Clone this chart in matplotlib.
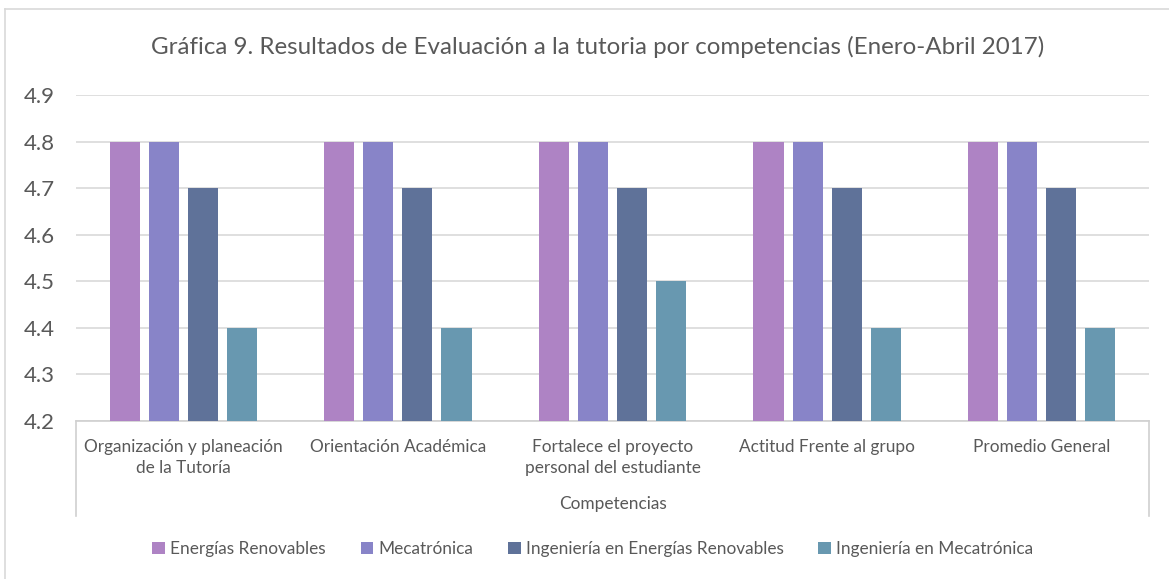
import matplotlib.pyplot as plt
import numpy as np
from matplotlib.lines import Line2D

plt.rcParams['font.family'] = ['Lato', 'DejaVu Sans']

categorias = ["Organización y planeación\nde la Tutoría", "Orientación Académica",
              "Fortalece el proyecto\npersonal del estudiante", "Actitud Frente al grupo",
              "Promedio General"]
series = ["Energías Renovables", "Mecatrónica", "Ingeniería en Energías Renovables",
          "Ingeniería en Mecatrónica"]
energias = [4.8, 4.8, 4.8, 4.8, 4.8]
mecatronica = [4.8, 4.8, 4.8, 4.8, 4.8]
ing_energias = [4.7, 4.7, 4.7, 4.7, 4.7]
ing_mecatronica = [4.4, 4.4, 4.5, 4.4, 4.4]
colores = ["#AE83C4", "#8884C8", "#5F7299", "#6898B0"]

gris = "#595959"
fig = plt.figure(figsize=(11.69, 5.79), dpi=100)
ax = fig.add_axes([76/1169, 1-421/579, (1149-76)/1169, (421-95)/579])

# marco de la figura
fig.add_artist(Line2D([5/1169, 1], [1-9/579, 1-9/579], color="#d9d9d9", lw=1.2))
fig.add_artist(Line2D([5/1169, 5/1169], [0, 1-9/579], color="#d9d9d9", lw=1.2))

x = np.arange(len(categorias))
ancho = 0.14
paso = 0.182
valores = [energias, mecatronica, ing_energias, ing_mecatronica]
for i, (nombre, vals) in enumerate(zip(series, valores)):
    ax.bar(x + (i - 1.5) * paso, np.array(vals) - 4.2, bottom=4.2, width=ancho,
           color=colores[i], label=nombre, zorder=3)

ax.set_xlim(-0.5, len(categorias) - 0.5)
ax.set_ylim(4.2, 4.9)
ax.set_yticks(np.arange(4.2, 4.95, 0.1))
ax.set_yticklabels([f"{v:.1f}" for v in np.arange(4.2, 4.95, 0.1)])
ax.yaxis.grid(True, color="#d9d9d9", lw=1.2, zorder=0)
ax.tick_params(axis='y', length=0, labelsize=16, labelcolor=gris, pad=15)
for s in ["top", "right", "left"]:
    ax.spines[s].set_visible(False)
ax.spines["bottom"].set_color("#d0d0d0")
ax.spines["bottom"].set_linewidth(1.2)
ax.set_xticks(x)
ax.set_xticklabels(categorias, fontsize=12.4, color=gris, linespacing=1.4, va="top")
ax.tick_params(axis='x', length=0, pad=13)
ax.set_xlabel("Competencias", fontsize=12.4, color=gris, labelpad=14)

# lineas del eje de categorias
for xa in [0, 1]:
    ax.plot([xa, xa], [0, -0.291], transform=ax.transAxes, color="#d0d0d0", lw=1.2,
            clip_on=False)

fig.suptitle("Gráfica 9. Resultados de Evaluación a la tutoria por competencias (Enero-Abril 2017)",
             x=598/1169, y=1-47/579, va="center", fontsize=17.4, color=gris)

ax.legend(loc="center", bbox_to_anchor=(593/1169, 1-549/579), bbox_transform=fig.transFigure,
          ncol=4, frameon=False, fontsize=12.4, handlelength=0.75, handleheight=0.75,
          handletextpad=0.3, columnspacing=2.0, labelcolor=gris)

fig.savefig("out.png", dpi=100)
